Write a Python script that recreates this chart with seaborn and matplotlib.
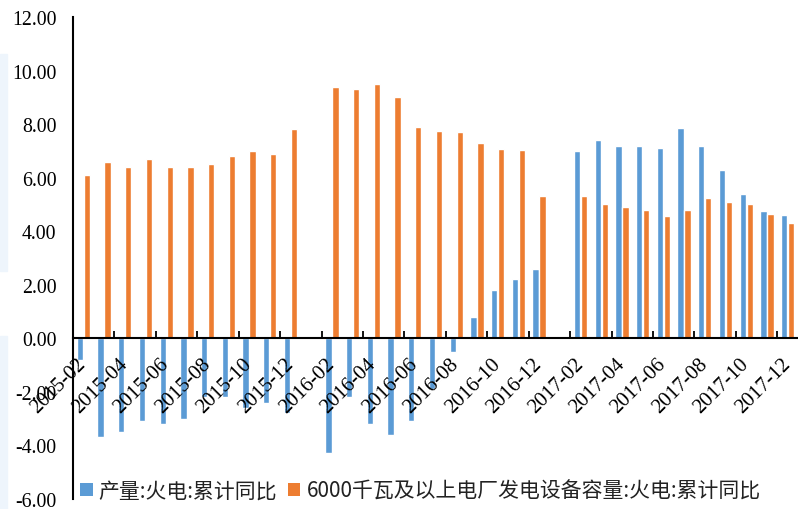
import numpy as np
import pandas as pd
import matplotlib
matplotlib.use("Agg")
import matplotlib.pyplot as plt
from matplotlib.patches import Patch, Rectangle
from matplotlib.ticker import FormatStrFormatter, FixedLocator
import seaborn as sns

# Monthly cumulative year-on-year growth (%) of thermal power
months = [
    "2015-02", "2015-03", "2015-04", "2015-05", "2015-06", "2015-07",
    "2015-08", "2015-09", "2015-10", "2015-11", "2015-12",
    "2016-01", "2016-02", "2016-03", "2016-04", "2016-05", "2016-06",
    "2016-07", "2016-08", "2016-09", "2016-10", "2016-11", "2016-12",
    "2017-01", "2017-02", "2017-03", "2017-04", "2017-05", "2017-06",
    "2017-07", "2017-08", "2017-09", "2017-10", "2017-11", "2017-12",
]
output_yoy = [
    -0.8, -3.7, -3.5, -3.1, -3.2, -3.0, -2.2, -2.2, -2.6, -2.4, -2.8,
    np.nan, -4.3, -2.2, -3.2, -3.6, -3.1, -1.9, -0.5, 0.8, 1.8, 2.2, 2.6,
    np.nan, 7.0, 7.4, 7.2, 7.2, 7.1, 7.85, 7.2, 6.3, 5.4, 4.75, 4.6,
]
capacity_yoy = [
    6.1, 6.6, 6.4, 6.7, 6.4, 6.4, 6.5, 6.8, 7.0, 6.9, 7.8,
    np.nan, 9.4, 9.3, 9.5, 9.0, 7.9, 7.75, 7.7, 7.3, 7.08, 7.05, 5.3,
    np.nan, 5.3, 5.0, 4.9, 4.8, 4.55, 4.8, 5.25, 5.1, 5.0, 4.65, 4.3,
]
series_names = ["产量:火电:累计同比", "6000千瓦及以上电厂发电设备容量:火电:累计同比"]
colors = ["#5B9BD5", "#ED7D31"]
y_ticks = [-6, -4, -2, 0, 2, 4, 6, 8, 10, 12]

df = pd.DataFrame({
    "month": months * 2,
    "value": output_yoy + capacity_yoy,
    "series": [series_names[0]] * len(months) + [series_names[1]] * len(months),
}).dropna()

sns.set_theme(style="white")
plt.rcParams["axes.unicode_minus"] = False
plt.rcParams["font.family"] = ["Liberation Serif", "DejaVu Serif"]
cjk = ["Noto Sans CJK SC", "DejaVu Sans"]

fig = plt.figure(figsize=(7.98, 5.10), dpi=100)
fig.patch.set_facecolor("white")
# faint strips along the left edge
fig.patches.append(Rectangle((0, 1 - 272 / 510), 7 / 798, 217 / 510,
                             transform=fig.transFigure, color="#eef5fc", zorder=0))
fig.patches.append(Rectangle((0, 0), 7 / 798, 173 / 510,
                             transform=fig.transFigure, color="#eef5fc", zorder=0))

ax = fig.add_axes([73 / 798, 10 / 510, 1 - 73 / 798, 482 / 510])

sns.barplot(data=df, x="month", y="value", hue="series", order=months,
            hue_order=series_names, palette=colors, saturation=1,
            width=0.68, gap=0.1, errorbar=None, legend=False, ax=ax)

ax.set_axisbelow(False)
ax.set_xlim(-0.5, len(months) - 0.5)
ax.set_ylim(-6, 12)
ax.set_xlabel("")
ax.set_ylabel("")
ax.grid(False)

# spines
for s in ["top", "right"]:
    ax.spines[s].set_visible(False)
ax.spines["bottom"].set_position(("data", 0))
ax.spines["bottom"].set_color("black")
ax.spines["bottom"].set_linewidth(1.5)
ax.spines["left"].set_color("black")
ax.spines["left"].set_linewidth(1.5)

# y axis
ax.set_yticks(y_ticks)
ax.yaxis.set_major_formatter(FormatStrFormatter("%.2f"))
ax.tick_params(axis="y", which="major", length=0, pad=12, labelsize=14.3,
               labelcolor="black", labelfontfamily="Liberation Serif")
ax.yaxis.set_minor_locator(FixedLocator([-6, 12]))
ax.tick_params(axis="y", which="minor", direction="in", length=6, width=1.5,
               color="black", left=True)

# x axis: labels every other month, tick marks between groups
label_pos = list(range(0, len(months), 2))
ax.set_xticks(label_pos)
ax.set_xticklabels([months[i] for i in label_pos], rotation=45,
                   rotation_mode="anchor", ha="right", va="center")
ax.xaxis.set_minor_locator(FixedLocator([i - 0.5 for i in label_pos[1:]]))
ax.tick_params(axis="x", which="major", length=0, pad=16, labelsize=15,
               labelcolor="black", labelfontfamily="Liberation Serif")
ax.tick_params(axis="x", which="minor", direction="in", length=5, width=1.3,
               color="black", bottom=True)

handles = [Patch(facecolor=c, edgecolor="none") for c in colors]
leg = ax.legend(handles, series_names, loc="center left", ncol=2,
                bbox_to_anchor=(80 / 798, 1 - 492 / 510), bbox_transform=fig.transFigure,
                frameon=False, handlelength=0.6, handleheight=0.6,
                handletextpad=0.3, columnspacing=0.5, borderpad=0, borderaxespad=0,
                prop={"family": cjk, "size": 15})
for t in leg.get_texts():
    t.set_color("#222222")

fig.savefig("out.png", dpi=100, facecolor="white")
